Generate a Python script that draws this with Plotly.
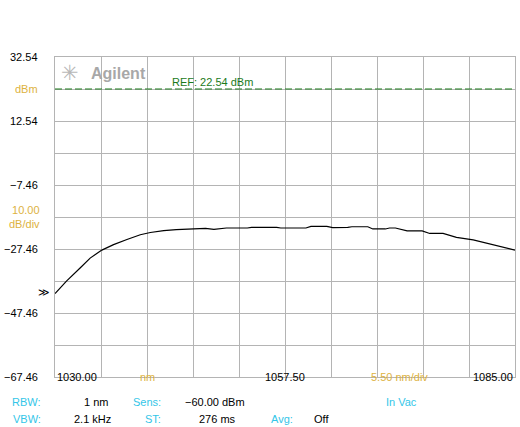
import plotly.graph_objects as go

# trace (nm, dBm)
wavelength = [1030.0, 1031.4, 1033.0, 1034.2, 1035.6, 1037.0, 1038.6, 1040.2, 1041.4, 1043.0,
              1044.5, 1046.5, 1048.0, 1049.0, 1050.5, 1053.0, 1053.5, 1056.5, 1057.0, 1060.0,
              1060.6, 1062.5, 1063.2, 1065.0, 1065.5, 1067.4, 1068.0, 1069.5, 1070.0, 1070.7,
              1072.1, 1073.9, 1074.8, 1076.4, 1078.0, 1080.0, 1082.0, 1083.6, 1085.0]
power = [-41.4, -37.4, -33.4, -30.3, -27.8, -26.1, -24.5, -23.0, -22.3, -21.7,
         -21.4, -21.2, -21.0, -21.3, -20.9, -20.9, -20.7, -20.7, -20.9, -20.9,
         -20.4, -20.4, -20.8, -20.7, -20.5, -20.5, -21.2, -21.2, -20.9, -20.9,
         -21.8, -21.8, -22.6, -22.6, -23.8, -24.6, -25.9, -26.9, -27.8]

ref_level = 22.54
y_labels = [32.54, 12.54, -7.46, -27.46, -47.46, -67.46]
x_start, x_center, x_stop = 1030.0, 1057.5, 1085.0
span_div = 5.5

YELLOW = "#ddb23e"
CYAN = "#33c6e8"
GRID = "#b4b4b4"
FONT = "Liberation Sans"

fig = go.Figure()
fig.add_trace(go.Scatter(x=wavelength, y=power, mode="lines",
                         line=dict(color="black", width=1.2), hoverinfo="skip"))

fig.add_shape(type="line", xref="paper", x0=0, x1=1, yref="y", y0=ref_level, y1=ref_level,
              line=dict(color="#1a7a1a", width=1.2, dash="7px,3px"))

ann = []
for v in y_labels:
    ann.append(dict(text=f"{v:.2f}".replace("-", "\u2212"), xref="paper", x=0, xshift=-15,
                    xanchor="right", yref="y", y=v, showarrow=False,
                    font=dict(color="black", size=11)))
ann.append(dict(text="dBm", xref="paper", x=0, xshift=-15, xanchor="right",
                yref="y", y=ref_level, showarrow=False, font=dict(color=YELLOW, size=11)))
ann.append(dict(text="10.00<br>dB/div", xref="paper", x=0, xshift=-13, xanchor="right", align="right",
                yref="y", y=-17.46, showarrow=False, font=dict(color=YELLOW, size=11)))
ann.append(dict(text="\u226b", xref="paper", x=0, xshift=-3, xanchor="right",
                yref="y", y=power[0], yshift=1, showarrow=False,
                font=dict(color="black", size=11, family="DejaVu Sans")))
ann.append(dict(text=f"REF: {ref_level:.2f} dBm", xref="x", x=1043.7, xanchor="left",
                yref="y", y=ref_level, yanchor="bottom", yshift=-1, showarrow=False,
                font=dict(color="#1a7a1a", size=11)))
# Agilent logo
ann.append(dict(text="\u2733", xref="paper", x=0, xshift=15, xanchor="center",
                yref="paper", y=1, yanchor="middle", yshift=-16, showarrow=False,
                font=dict(color="#b8b8b8", size=21, family="DejaVu Sans")))
ann.append(dict(text="<b>Agilent</b>", xref="paper", x=0, xshift=34, xanchor="left",
                yref="paper", y=1, yanchor="middle", yshift=-16, showarrow=False,
                font=dict(color="#a8a8a8", size=16)))

# x axis labels
ann.append(dict(text=f"{x_start:.2f}", xref="x", x=x_start, xanchor="left", yref="paper", y=0,
                yshift=-8, showarrow=False, font=dict(color="black", size=11)))
ann.append(dict(text="nm", xref="x", x=1041.0, yref="paper", y=0, yshift=-8,
                showarrow=False, font=dict(color=YELLOW, size=11)))
ann.append(dict(text=f"{x_center:.2f}", xref="x", x=x_center, yref="paper", y=0, yshift=-8,
                showarrow=False, font=dict(color="black", size=11)))
ann.append(dict(text=f"{span_div:.2f} nm/div", xref="x", x=1071.2, yref="paper", y=0, yshift=-8,
                showarrow=False, font=dict(color=YELLOW, size=11)))
ann.append(dict(text=f"{x_stop:.2f}", xref="x", x=x_stop, xanchor="right", yref="paper", y=0,
                yshift=-8, showarrow=False, font=dict(color="black", size=11)))

# settings rows under the graticule (pixel positions)
info = [
    ("RBW:", 43, 402, "right", CYAN), ("1 nm", 110, 402, "right", "black"),
    ("Sens:", 163, 402, "right", CYAN), ("\u221260.00 dBm", 183, 402, "left", "black"),
    ("In Vac", 401, 402, "center", CYAN),
    ("VBW:", 43, 419, "right", CYAN), ("2.1 kHz", 113, 419, "right", "black"),
    ("ST:", 163, 419, "right", CYAN), ("276 ms", 197, 419, "left", "black"),
    ("Avg:", 295, 419, "right", CYAN), ("Off", 312, 419, "left", "black"),
]
for txt, px, py, anchor, col in info:
    ann.append(dict(text=txt, xref="paper", x=(px - 55) / 460, xanchor=anchor,
                    yref="paper", y=(377 - py) / 320, yanchor="middle", showarrow=False,
                    font=dict(color=col, size=11)))

fig.update_layout(
    width=520, height=427,
    margin=dict(l=55, r=5, t=57, b=50),
    paper_bgcolor="white", plot_bgcolor="white",
    showlegend=False,
    font=dict(family=FONT, size=11),
    annotations=ann,
    xaxis=dict(range=[x_start, x_stop], tick0=x_start, dtick=span_div, showticklabels=False,
               showgrid=True, gridcolor=GRID, gridwidth=1, zeroline=False,
               showline=True, linecolor=GRID, mirror=True, ticks=""),
    yaxis=dict(range=[-67.46, 32.54], tick0=-67.46, dtick=10, showticklabels=False,
               showgrid=True, gridcolor=GRID, gridwidth=1, zeroline=False,
               showline=True, linecolor=GRID, mirror=True, ticks=""),
)

# drop the default page margin so the figure sits in the window's corner
fig.write_html("out.html", config={"displayModeBar": False},
               post_script="document.body.style.margin='0';")
